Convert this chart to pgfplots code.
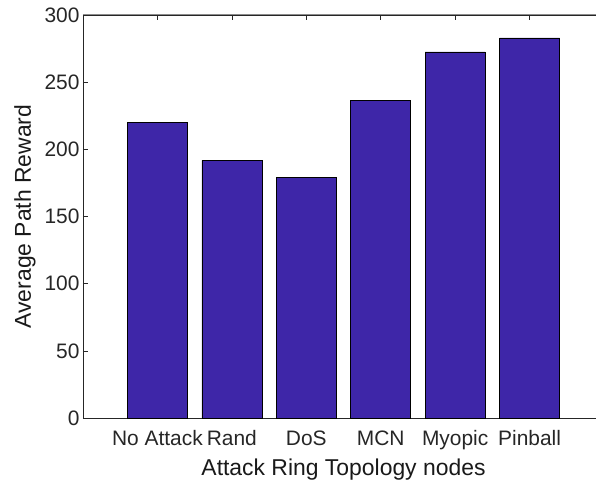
\documentclass[border=0pt]{standalone}
\usepackage{pgfplots}
\pgfplotsset{compat=1.18}
\usepackage{fontspec}
\setmainfont{Liberation Sans}
\definecolor{barc}{RGB}{62,38,168}
\definecolor{txt}{RGB}{38,38,38}
\begin{document}
\begin{tikzpicture}
\begin{axis}[
  scale only axis,
  width=521bp, height=403bp,
  xmin=0, xmax=7, ymin=0, ymax=300,
  ytick={0,50,...,300},
  xtick={1,2,3,4,5,6},
  xticklabels={No Attack,Rand,DoS,MCN,Myopic,Pinball},
  tick align=inside,
  major tick length=5bp,
  ytick pos=left,
  xtick pos=both,
  axis line style={black!85, line width=0.6bp},
  every tick/.style={black!85, line width=0.6bp},
  /pgf/number format/assume math mode=true,
  ticklabel style={font=\fontsize{21}{25}\selectfont, text=txt},
  label style={font=\fontsize{23}{27}\selectfont, text=black!90},
  xlabel={Attack Ring Topology nodes},
  ylabel={Average Path Reward},
  xticklabel style={yshift=-9bp},
  xlabel style={yshift=-2bp},
  ylabel style={yshift=2bp},
]
\addplot[ybar, bar width=0.806, fill=barc, draw=black, line width=0.6bp] coordinates {
  (1,219.8) (2,191.8) (3,179.2) (4,236.5) (5,272.5) (6,283.0)
};
\draw[black!45, line width=1bp] (rel axis cs:0,1) -- (rel axis cs:1,1);
\end{axis}
\pgfresetboundingbox
\useasboundingbox (-83bp,-69bp) rectangle (513bp,418bp);
\end{tikzpicture}
\end{document}
